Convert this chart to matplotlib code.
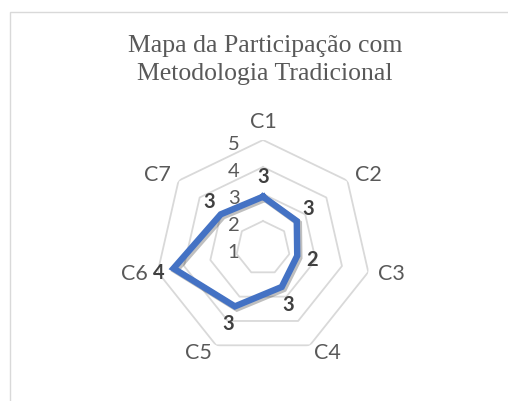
"""
Radar (teia) da participação com metodologia tradicional, estilo Excel.
Grelha em heptágonos, eixo radial de 1 a 5, rótulos arredondados.
"""
import matplotlib

matplotlib.use("Agg")
import matplotlib.patheffects as pe
import matplotlib.pyplot as plt
import numpy as np

title = "Mapa da Participação com\nMetodologia Tradicional"
categorias = ["C1", "C2", "C3", "C4", "C5", "C6", "C7"]
valores = [2.9, 2.6, 2.3, 2.6, 3.4, 4.4, 3.0]
niveis = [1, 2, 3, 4, 5]

AZUL = "#4472C4"
CINZA_TXT = "#595959"
CINZA_GRID = "#d9d9d9"

plt.rcParams["font.family"] = ["Lato", "DejaVu Sans"]

fig = plt.figure(figsize=(5.08, 4.01), dpi=100)
fig.patches.append(
    plt.Rectangle((10 / 508, -0.1), 1.2, 1 - 12 / 401 + 0.1, transform=fig.transFigure,
                  fill=False, edgecolor="#d9d9d9", linewidth=1.0)
)

fig.text(0.522, 0.85, title, ha="center", va="center", fontsize=18.5,
         family="Liberation Serif", color=CINZA_TXT, linespacing=1.35)

ax = fig.add_axes([0.3051, 0.1122, 0.4252, 0.5387], projection="polar")
ax.set_theta_offset(np.pi / 2)
ax.set_theta_direction(-1)
ax.set_ylim(niveis[0], niveis[-1])
ax.set_xticks([])
ax.set_yticks([])
ax.grid(False)
ax.spines["polar"].set_visible(False)
ax.patch.set_visible(False)

n = len(categorias)
ang = np.linspace(0, 2 * np.pi, n, endpoint=False)
ang_f = np.append(ang, ang[0])

# anéis da grelha
for r in niveis[1:]:
    ax.plot(ang_f, [r] * (n + 1), color=CINZA_GRID, linewidth=1.3, zorder=1)

# rótulos do eixo radial, ao lado do eixo C1
for r in niveis:
    ax.annotate(str(r), (0, r), xytext=(-17, -3), textcoords="offset points",
                ha="right", va="center", fontsize=14.5, color=CINZA_TXT)

# série
v_f = np.append(valores, valores[0])
ax.plot(ang_f, v_f, color=AZUL, linewidth=4.6, solid_joinstyle="miter", zorder=3,
        path_effects=[pe.SimpleLineShadow(offset=(1.5, -1.5), shadow_color="k", alpha=0.25),
                      pe.Normal()])

# rótulos de dados (px -> pt: * 0.72)
for a, v in zip(ang, valores):
    dx, dy = np.sin(a), np.cos(a)
    ax.annotate(f"{v:.0f}", (a, v), xytext=(15 * 0.72 * dx, 20 * 0.72 * dy),
                textcoords="offset points", ha="center", va="center", fontsize=14.5,
                fontweight="bold", color="#404040", zorder=4)

# categorias
for a, c in zip(ang, categorias):
    dx, dy = np.sin(a), np.cos(a)
    if dx > 0.1:
        ha = "left"
    elif dx < -0.1:
        ha = "right"
    else:
        ha = "center"
    va = "bottom" if dy > 0.9 else "center"
    ax.annotate(c, (a, niveis[-1]), xytext=(7 * dx, 6 * dy), textcoords="offset points",
                ha=ha, va=va, fontsize=15.5, color=CINZA_TXT, clip_on=False)

fig.savefig("out.png", dpi=100)
